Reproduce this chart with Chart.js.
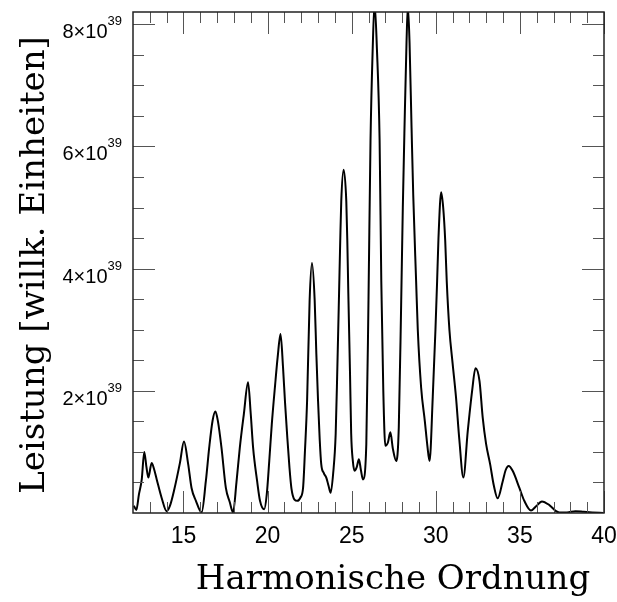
<!DOCTYPE html>
<html>
<head>
<meta charset="utf-8">
<script src="https://cdn.jsdelivr.net/npm/chart.js@4.4.1/dist/chart.umd.min.js"></script>
<style>
  html, body { margin: 0; padding: 0; background: #fff; }
  #wrap { width: 617px; height: 602px; }
</style>
</head>
<body>
<div id="wrap"><canvas id="chart" width="617" height="602"></canvas></div>
<script>
// Harmonische Ordnung (x) und Leistung in Einheiten von 10^39 (y)
const ordnung = [
  12.05, 12.2, 12.35, 12.52, 12.67, 12.8, 12.91, 13.11, 13.25, 13.41, 13.7, 14.0,
  14.2, 14.45, 14.79, 15.03, 15.28, 15.48, 15.74, 16.08, 16.33, 16.53, 16.73, 16.9,
  17.05, 17.26, 17.52, 17.75, 17.95, 18.15, 18.35, 18.59, 18.84, 19.0, 19.14, 19.38,
  19.55, 19.8, 19.95, 20.1, 20.25, 20.45, 20.6, 20.77, 20.92, 21.04, 21.16, 21.3,
  21.42, 21.6, 21.77, 21.95, 22.11, 22.22, 22.35, 22.5, 22.64, 22.8, 22.9, 23.0,
  23.1, 23.19, 23.35, 23.49, 23.62, 23.75, 23.9, 24.05, 24.15, 24.25, 24.32, 24.38,
  24.52, 24.68, 24.74, 24.8, 24.9, 24.97, 25.07, 25.17, 25.3, 25.43, 25.55, 25.67,
  25.87, 26.0, 26.12, 26.25, 26.36, 26.5, 26.66, 26.76, 26.88, 27.0, 27.15, 27.3,
  27.45, 27.65, 27.8, 27.94, 28.04, 28.14, 28.26, 28.34, 28.44, 28.56, 28.66, 28.83,
  28.93, 29.13, 29.35, 29.5, 29.63, 29.82, 29.98, 30.08, 30.16, 30.32, 30.44, 30.56,
  30.65, 30.81, 31.0, 31.2, 31.4, 31.64, 31.9, 32.16, 32.36, 32.6, 32.79, 32.99,
  33.23, 33.45, 33.68, 33.98, 34.15, 34.33, 34.57, 34.97, 35.26, 35.66, 35.96, 36.31,
  36.75, 37.15, 37.34, 37.8, 38.3, 38.8, 39.3, 39.95
];
const leistung = [
  0.12, 0.05, 0.3, 0.55, 1.0, 0.75, 0.58, 0.82, 0.72, 0.55, 0.25, 0.03,
  0.12, 0.38, 0.82, 1.17, 0.8, 0.41, 0.2, 0.01, 0.52, 1.07, 1.51, 1.66,
  1.5, 1.07, 0.41, 0.18, 0.01, 0.5, 1.07, 1.62, 2.14, 1.62, 1.07, 0.52,
  0.2, 0.06, 0.3, 0.85, 1.45, 2.1, 2.55, 2.93, 2.38, 1.8, 1.29, 0.75,
  0.4, 0.22, 0.2, 0.25, 0.41, 1.0, 1.84, 3.48, 4.09, 3.48, 2.6, 1.84,
  1.2, 0.8, 0.65, 0.58, 0.45, 0.33, 0.65, 1.3, 2.4, 3.6, 4.46, 5.1,
  5.62, 5.1, 4.46, 3.6, 2.3, 1.3, 0.85, 0.69, 0.75, 0.88, 0.7, 0.55,
  1.13, 3.5, 6.1, 7.6, 8.35, 7.6, 6.1, 3.8, 2.0, 1.1, 1.15, 1.32,
  1.05, 0.85, 1.4, 3.4, 5.0, 6.3, 7.7, 8.3, 7.7, 6.3, 5.2, 3.8,
  3.0, 2.05, 1.5, 1.1, 0.85, 1.9, 3.0, 3.8, 4.5, 5.25, 5.0, 4.46,
  3.8, 3.0, 2.45, 1.9, 1.2, 0.58, 1.34, 2.0, 2.37, 2.16, 1.56, 1.13,
  0.8, 0.45, 0.24, 0.52, 0.7, 0.77, 0.69, 0.41, 0.2, 0.04, 0.11, 0.19,
  0.13, 0.03, 0.01, 0.01, 0.03, 0.02, 0.01, 0.0
];

const xMajorTicks = [15, 20, 25, 30, 35, 40];
const xMinorTicks = [13, 14, 16, 17, 18, 19, 21, 22, 23, 24, 26, 27, 28, 29, 31, 32, 33, 34, 36, 37, 38, 39];
const yMajorTicks = [2, 4, 6, 8];
const yMinorTicks = [0.5, 1, 1.5, 2.5, 3, 3.5, 4.5, 5, 5.5, 6.5, 7, 7.5];
const yExponent = '39';
const xTitle = 'Harmonische Ordnung';
const yTitle = 'Leistung [willk. Einheiten]';

const points = ordnung.map((x, i) => ({ x: x, y: leistung[i] }));

// Rahmen, nach innen zeigende Ticks, Beschriftungen
const axesPlugin = {
    id: 'idlAxes',
    afterDraw(chart) {
        const ctx = chart.ctx;
        const area = chart.chartArea;
        const xs = chart.scales.x;
        const ys = chart.scales.y;
        const majorLen = 22, minorLen = 11;

        ctx.save();
        // Ticks
        ctx.strokeStyle = '#555';
        ctx.lineWidth = 1;
        ctx.beginPath();
        const xTick = (v, len) => {
            const p = Math.round(xs.getPixelForValue(v)) + 0.5;
            ctx.moveTo(p, area.bottom); ctx.lineTo(p, area.bottom - len);
            ctx.moveTo(p, area.top); ctx.lineTo(p, area.top + len);
        };
        const yTick = (v, len) => {
            const p = Math.round(ys.getPixelForValue(v)) + 0.5;
            ctx.moveTo(area.left, p); ctx.lineTo(area.left + len, p);
            ctx.moveTo(area.right, p); ctx.lineTo(area.right - len, p);
        };
        xMinorTicks.forEach(v => xTick(v, minorLen));
        xMajorTicks.forEach(v => xTick(v, majorLen));
        yMinorTicks.forEach(v => yTick(v, minorLen));
        yMajorTicks.forEach(v => yTick(v, majorLen));
        ctx.stroke();

        // Rahmen
        ctx.strokeStyle = '#222';
        ctx.lineWidth = 1.5;
        ctx.strokeRect(area.left, area.top, area.right - area.left, area.bottom - area.top);

        // x-Beschriftung
        ctx.fillStyle = '#000';
        ctx.font = '23px "Liberation Sans", Arial, sans-serif';
        ctx.textAlign = 'center';
        ctx.textBaseline = 'alphabetic';
        xMajorTicks.forEach(v => {
            ctx.fillText(String(v), xs.getPixelForValue(v), area.bottom + 30);
        });

        // y-Beschriftung mit Exponent
        yMajorTicks.forEach(v => {
            const p = ys.getPixelForValue(v);
            ctx.textAlign = 'right';
            ctx.font = '13px "Liberation Sans", Arial, sans-serif';
            const supRight = area.left - 11;
            const supW = ctx.measureText(yExponent).width;
            ctx.fillText(yExponent, supRight, p + 1);
            ctx.font = '20px "Liberation Sans", Arial, sans-serif';
            ctx.fillText(v + '\u00d710', supRight - supW, p + 14);
        });

        // Achsentitel
        ctx.font = '34px "DejaVu Serif", serif';
        ctx.textAlign = 'center';
        ctx.fillText(xTitle, 393, 589);
        ctx.translate(44, 265);
        ctx.rotate(-Math.PI / 2);
        ctx.fillText(yTitle, 0, 0);
        ctx.restore();
    }
};

new Chart(document.getElementById('chart').getContext('2d'), {
    type: 'line',
    data: {
        datasets: [{
            data: points,
            borderColor: '#000',
            borderWidth: 2,
            pointRadius: 0,
            fill: false,
            cubicInterpolationMode: 'monotone'
        }]
    },
    options: {
        responsive: false,
        animation: false,
        devicePixelRatio: 1,
        layout: { padding: { left: 133, right: 13, top: 12, bottom: 89 } },
        plugins: {
            legend: { display: false },
            tooltip: { enabled: false }
        },
        scales: {
            x: { type: 'linear', min: 12, max: 40, display: false },
            y: { type: 'linear', min: 0, max: 8.2, display: false }
        }
    },
    plugins: [axesPlugin]
});
</script>
</body>
</html>
